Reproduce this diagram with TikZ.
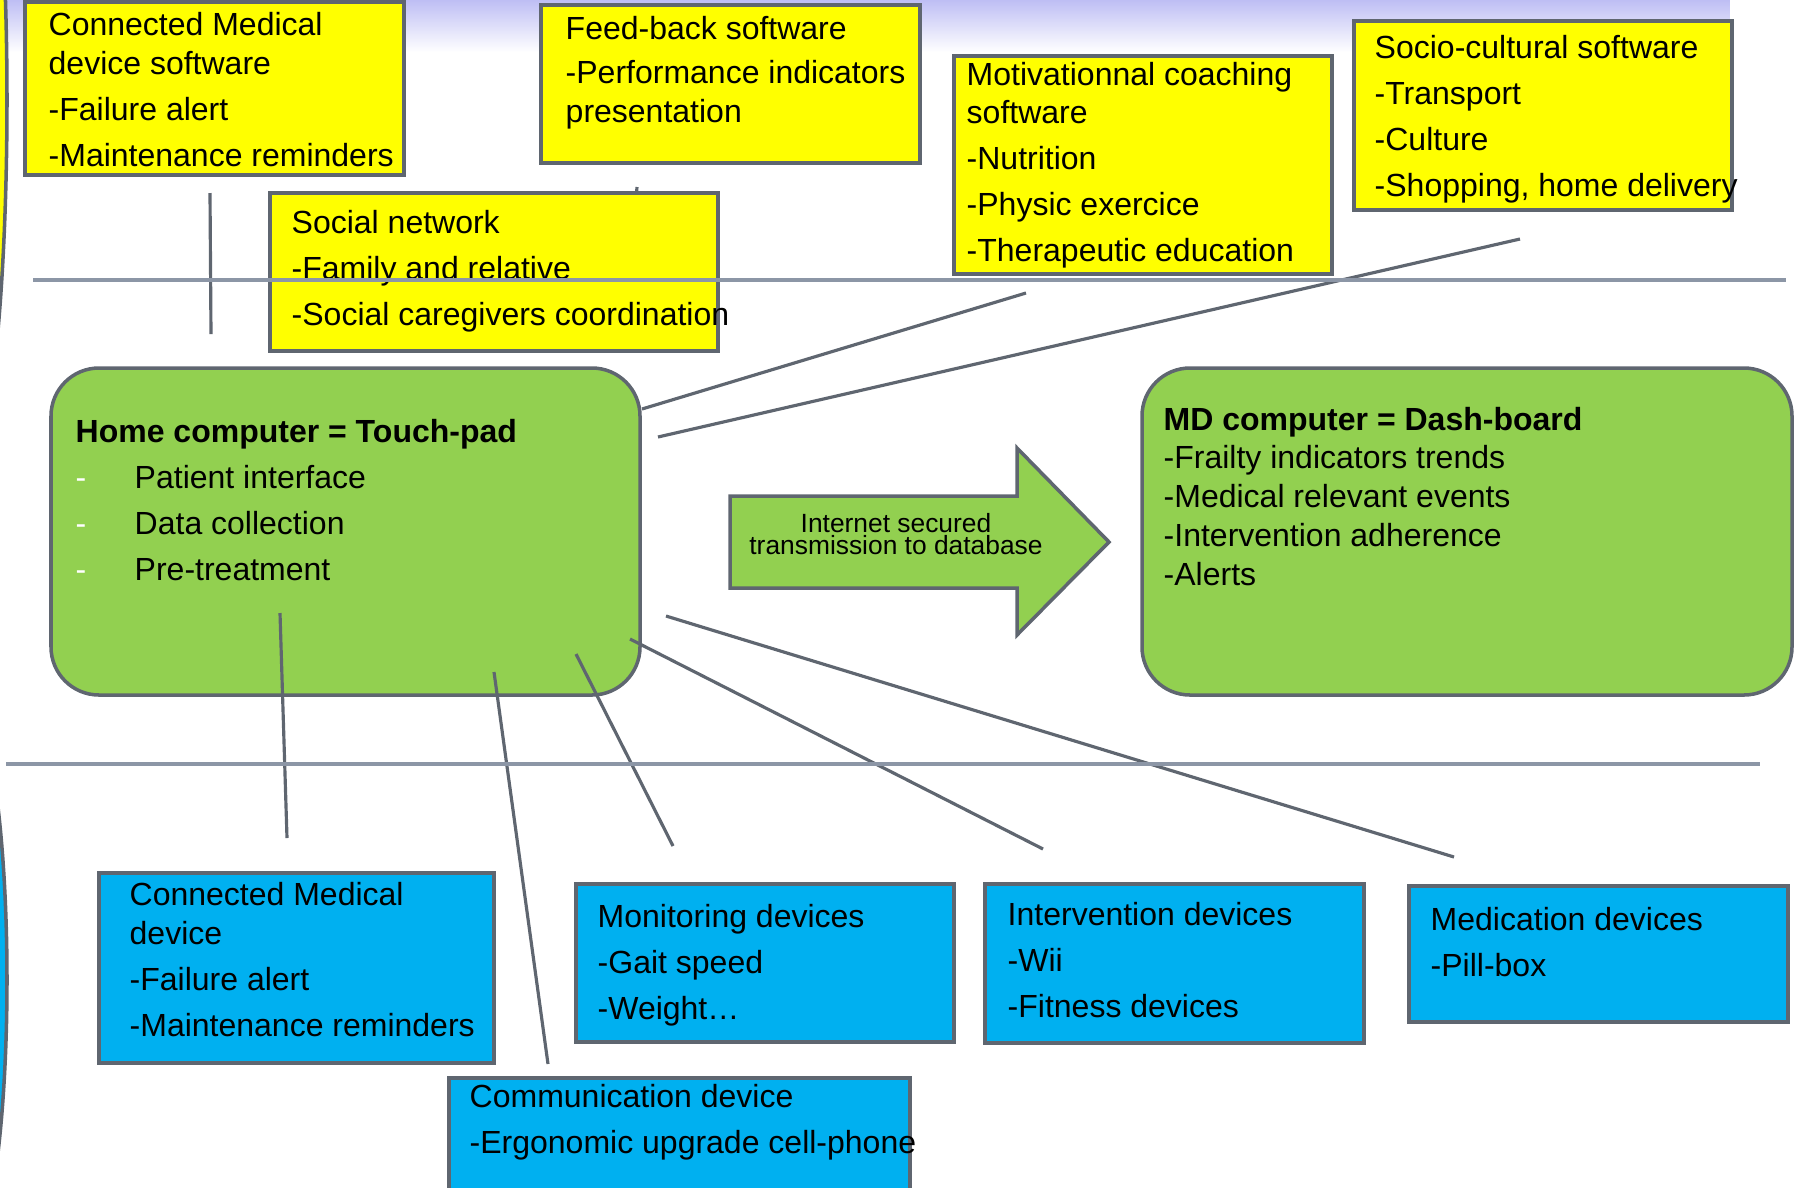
\documentclass[tikz,border=0pt]{standalone}
\usepackage{fontspec}
\setmainfont{Liberation Sans}
\usetikzlibrary{fit,fadings}
\definecolor{ybox}{HTML}{FFFF00}
\definecolor{bbox}{HTML}{00B0F0}
\definecolor{gbox}{HTML}{92D050}
\definecolor{linegray}{HTML}{5F6670}
\definecolor{rulegray}{HTML}{8C96A6}
\definecolor{lav}{HTML}{BEBEF4}
\begin{document}
\begin{tikzpicture}[x=0.01cm,y=-0.01cm,
    box/.style={draw=linegray,line width=1pt,inner sep=0pt},
    soft/.style={box,fill=ybox},
    dev/.style={box,fill=bbox},
    comp/.style={box,fill=gbox,rounded corners=0.48cm},
    txt/.style={anchor=base west,inner sep=0pt,align=left,font=\fontsize{9.1}{11}\selectfont},
    wire/.style={draw=linegray,line width=0.9pt},
    sep/.style={draw=rulegray,line width=0.9pt}]
    \def\dsh{\makebox[0.59cm][l]{\textcolor{white}{-}}} % puce blanche
    \useasboundingbox (0,0) rectangle (1794,1187);
    % bandeau du titre
    \fill[lav,path fading=south] (0,0) rectangle (1732,52);
    % bords de page
    \draw[linegray,line width=1pt,fill=ybox] (-37,100) ellipse [x radius=44,y radius=380];
    \draw[linegray,line width=1pt,fill=bbox] (-37,980) ellipse [x radius=44,y radius=285];
    % logiciels (texte place sur la derniere ligne)
    \node[soft,fit={(25,2)(404,175)}] (cmdsoft) {};
    \node[txt] (cmdsofttxt) at (48,166) {Connected Medical\\device software\\[2pt]-Failure alert\\[2pt]-Maintenance reminders};
    \node[soft,fit={(541,5)(920,163)}] (feedback) {};
    \node[txt] (feedbacktxt) at (565,122) {Feed-back software\\[1.5pt]-Performance indicators\\presentation};
    \node[soft,fit={(954,56)(1332,274)}] (motiv) {};
    \node[txt] (motivtxt) at (966,261) {Motivationnal coaching\\software\\[2pt]-Nutrition\\[2pt]-Physic exercice\\[2pt]-Therapeutic education};
    \node[soft,fit={(1354,21)(1732,210)}] (socio) {};
    \node[txt] (sociotxt) at (1374,196) {Socio-cultural software\\[2pt]-Transport\\[2pt]-Culture\\[2pt]-Shopping, home delivery};
    \coordinate (fb-a) at (637,187); \coordinate (fb-b) at (632,250);
    \draw[wire] (fb-a)--(fb-b);
    \node[soft,fit={(270,193)(718,351)}] (social) {};
    \node[txt] (socialtxt) at (291,325) {Social network\\[2pt]-Family and relative\\[2pt]-Social caregivers coordination};
    % ordinateurs
    \node[comp,fit={(51,368)(640,695)}] (home) {};
    \node[txt] (hometxt) at (75,580) {\textbf{Home computer = Touch-pad}\\[2pt]\dsh Patient interface\\[2pt]\dsh Data collection\\[2pt]\dsh Pre-treatment};
    \node[comp,fit={(1142,368)(1792,695)}] (dash) {};
    \node[txt] (dashtxt) at (1163,585) {\textbf{MD computer = Dash-board}\\-Frailty indicators trends\\-Medical relevant events\\-Intervention adherence\\-Alerts};
    \draw[linegray,line width=1pt,fill=gbox] (730,496)--(1017,496)--(1017,448)--(1109,542)--(1017,635)--(1017,588)--(730,588)--cycle;
    \node[anchor=base,inner sep=0pt,align=center,font=\fontsize{7.5}{6}\selectfont] (net) at (896,554) {Internet secured\\transmission to database};
    % dispositifs
    \node[dev,fit={(99,873)(494,1063)}] (cmddev) {};
    \node[txt] (cmddevtxt) at (129,1036) {Connected Medical\\device\\[2pt]-Failure alert\\[2pt]-Maintenance reminders};
    \node[dev,fit={(576,884)(954,1042)}] (monit) {};
    \node[txt] (monittxt) at (597,1019) {Monitoring devices\\[2pt]-Gait speed\\[2pt]-Weight…};
    \node[dev,fit={(449,1078)(910,1192)}] (comm) {};
    \node[txt] (commtxt) at (469,1153) {Communication device\\[2pt]-Ergonomic upgrade cell-phone};
    \node[dev,fit={(985,884)(1364,1043)}] (interv) {};
    \node[txt] (intervtxt) at (1007,1017) {Intervention devices\\[2pt]-Wii\\[2pt]-Fitness devices};
    \node[dev,fit={(1409,886)(1788,1022)}] (medic) {};
    \node[txt] (medictxt) at (1430,976) {Medication devices\\[2pt]-Pill-box};
    % liaisons
    \coordinate (cmd-a) at (210,193);   \coordinate (cmd-b) at (211,334);
    \coordinate (mot-a) at (1026,293);  \coordinate (mot-b) at (642,409);
    \coordinate (soc-a) at (1520,239);  \coordinate (soc-b) at (658,437);
    \coordinate (cdev-a) at (280,613);  \coordinate (cdev-b) at (287,838);
    \coordinate (com-a) at (494,672);   \coordinate (com-b) at (548,1064);
    \coordinate (mon-a) at (576,654);   \coordinate (mon-b) at (673,846);
    \coordinate (int-a) at (630,639);   \coordinate (int-b) at (1043,849);
    \coordinate (med-a) at (666,616);   \coordinate (med-b) at (1454,857);
    \foreach \p in {cmd,mot,soc,cdev,com,mon,int,med}
        \draw[wire] (\p-a)--(\p-b);
    \draw[sep] (33,280)--(1786,280);
    \draw[sep] (6,764)--(1760,764);
\end{tikzpicture}
\end{document}
